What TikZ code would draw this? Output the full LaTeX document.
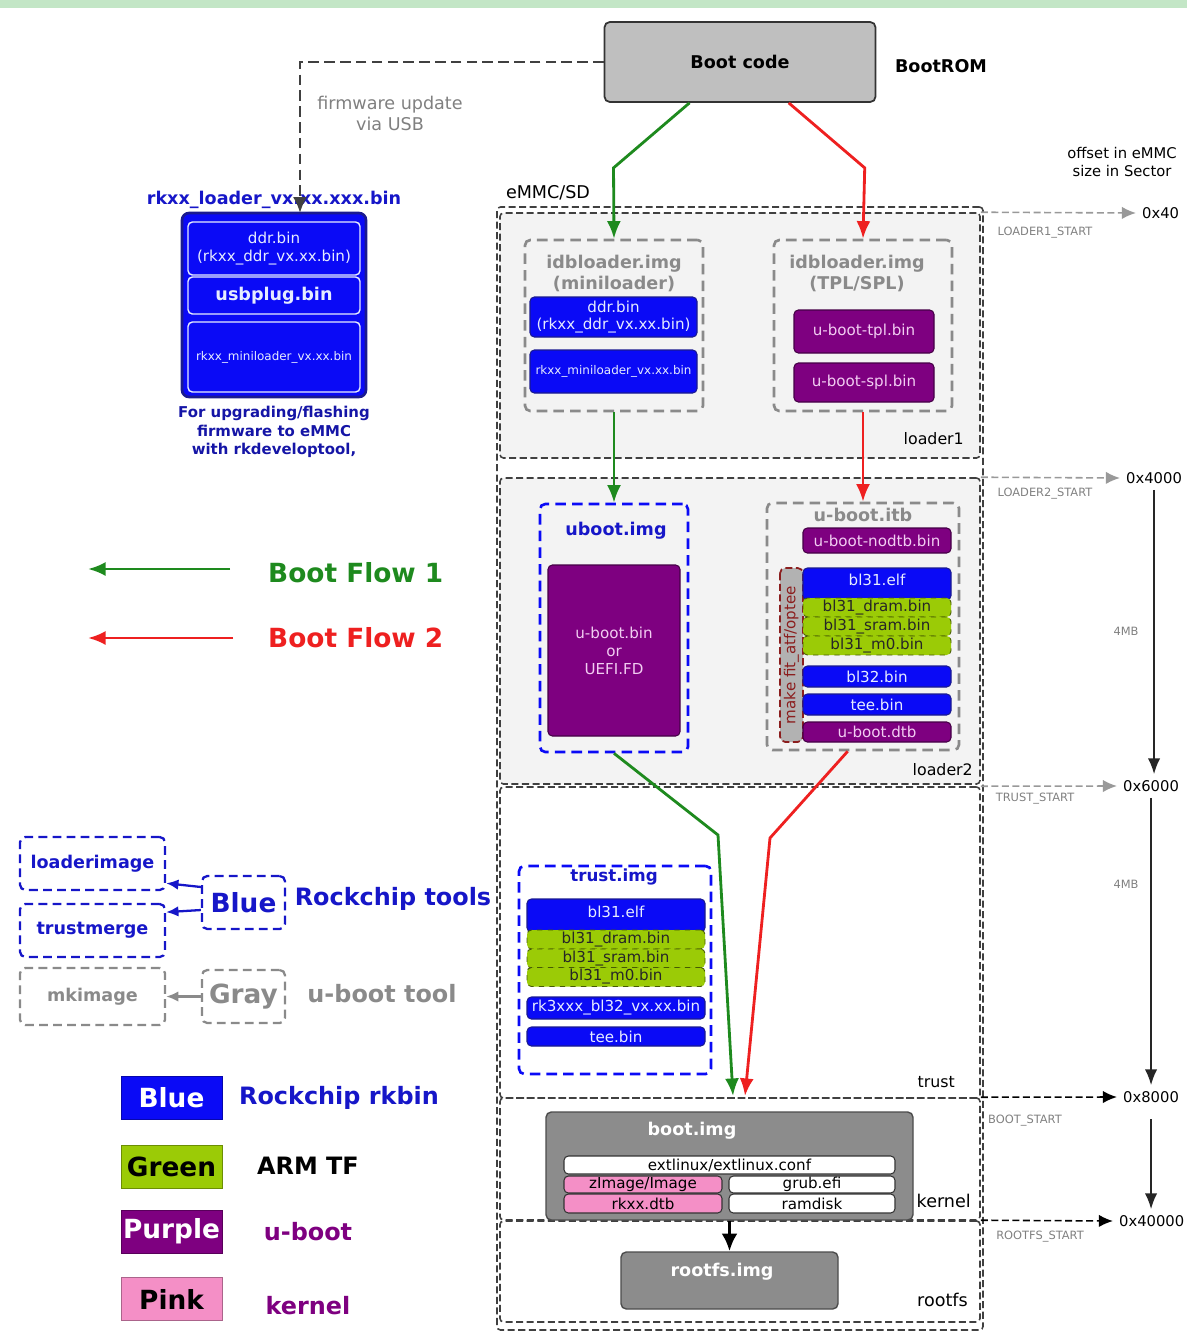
\documentclass[tikz,border=0pt]{standalone}
\usepackage{fontspec}
\setmainfont{DejaVu Sans}
\usetikzlibrary{arrows.meta,calc}
\definecolor{bandgreen}{HTML}{C3E6C6}
\definecolor{rbblue}{HTML}{0A0AF6}
\definecolor{rbtext}{HTML}{E6ECFF}
\definecolor{rbdark}{HTML}{1A1A90}
\definecolor{noteblue}{HTML}{1616C8}
\definecolor{ubpurple}{HTML}{7E0080}
\definecolor{ubtext}{HTML}{F2CDF2}
\definecolor{atfgreen}{HTML}{9BCB06}
\definecolor{knpink}{HTML}{F48FC6}
\definecolor{flowgreen}{HTML}{1E8A1E}
\definecolor{flowred}{HTML}{EE2020}
\definecolor{toolgray}{HTML}{8A8A8A}
\definecolor{secfill}{HTML}{F3F3F3}
\definecolor{fitred}{HTML}{8B1E1E}
\newcommand\tinyfs{\fontsize{6.8}{8}\selectfont}
\newcommand\binfs{\fontsize{8.6}{10.2}\selectfont}
\newcommand\titlefs{\fontsize{10}{12}\selectfont}
\newcommand\bigfs{\fontsize{15}{18}\selectfont}
\newcommand\midfs{\fontsize{13.6}{16}\selectfont}
\newcommand\offfs{\fontsize{8.4}{10}\selectfont}
\newcommand\tagfs{\fontsize{6.5}{8}\selectfont}
\tikzset{
 sz/.style 2 args={minimum width=#1*0.02cm,minimum height=#2*0.02cm,inner sep=0pt},
 rkbin/.style={rounded corners=2.5pt,fill=rbblue,draw=rbdark,line width=.6pt,text=rbtext,font=\binfs},
 ubbox/.style={rounded corners=2.5pt,fill=ubpurple,draw=ubpurple!55!black,line width=.6pt,text=ubtext,font=\binfs},
 atfbox/.style={rounded corners=2.5pt,fill=atfgreen,draw=atfgreen!45!black,dashed,line width=.5pt,text=black!85,font=\binfs},
 kfile/.style={rounded corners=2.5pt,draw=black!80,line width=.6pt,font=\binfs},
 imgbox/.style={rounded corners=3pt,draw=#1,dash pattern=on 6pt off 3.5pt,line width=1.5pt},
 imgfill/.style={rounded corners=3pt,fill=black!45,draw=black!70,line width=.8pt},
 secline/.style={draw=black!75,dash pattern=on 4pt off 2pt,line width=.9pt,rounded corners=2pt},
 tool/.style={draw=#1,text=#1,dash pattern=on 5pt off 3pt,line width=1.3pt,rounded corners=3pt,font=\titlefs\bfseries,sz={145}{53}},
 toolarr/.style={draw=#1,line width=1.3pt,-{Latex[length=7pt,width=6pt]}},
 flowline/.style={draw=#1,line width=1.6pt,-{Latex[length=10pt,width=8pt]}},
 offarr/.style={draw=#1,dash pattern=on 4pt off 2pt,line width=.9pt,-{Latex[length=8pt,width=7pt]}},
 sizearr/.style={draw=black!85,line width=1pt,-{Latex[length=9pt,width=7pt]}}
}

\begin{document}
\begin{tikzpicture}[x=0.02cm,y=-0.02cm,>=Latex]
\useasboundingbox (0,0) rectangle (1187,1336);
\fill[bandgreen] (0,0) rectangle (1187,8);

% boot ROM and the USB update path
\node[draw=black!80,fill=black!25,line width=1pt,rounded corners=3pt,sz={271}{80},font=\titlefs\bfseries] (bootcode) at (740,62) {Boot code};
\node[font=\titlefs\bfseries] (bootrom) at (941,66) {BootROM};
\node[font=\titlefs,text=black!50,align=center] (fwnote) at (390,113) {firmware update\\via USB};
\node[font=\titlefs\bfseries,text=noteblue] (ldrtitle) at (274,200) {rkxx\_loader\_vx.xx.xxx.bin};
\node[fill=rbblue,draw=rbdark,line width=1.5pt,rounded corners=4pt,sz={184}{184}] (ldrbox) at (274,305) {};
\node[rkbin,draw=rbtext,line width=.8pt,sz={172}{53},align=center] (ldrddr) at (274,248.5) {ddr.bin\\(rkxx\_ddr\_vx.xx.bin)};
\node[rkbin,draw=rbtext,line width=.8pt,sz={172}{37},font=\titlefs\bfseries] (ldrusb) at (274,295.5) {usbplug.bin};
\node[rkbin,draw=rbtext,line width=.8pt,sz={172}{70},font=\tinyfs] (ldrmini) at (274,357) {rkxx\_miniloader\_vx.xx.bin};
\node[font=\fontsize{8.5}{10.5}\selectfont\bfseries,text=rbdark!80!blue,align=center] (flashnote) at (274,432) {For upgrading/flashing\\firmware to eMMC\\with rkdeveloptool,};
\coordinate (usbin) at (300,213);
\draw[draw=black!75,line width=1.6pt,dash pattern=on 6pt off 3pt,-{Latex[length=9pt,width=8pt]}] (bootcode.west) -| (usbin);

% boot flow keys
\node[font=\bigfs\bfseries,text=flowgreen,anchor=west] (flow1) at (262,573) {Boot Flow 1};
\node[font=\bigfs\bfseries,text=flowred,anchor=west] (flow2) at (262,638) {Boot Flow 2};
\coordinate (f1tail) at (230,569); \coordinate (f1head) at (88,569);
\coordinate (f2tail) at (233,638); \coordinate (f2head) at (88,638);
\draw[flowline=flowgreen] (f1tail) -- (f1head);
\draw[flowline=flowred] (f2tail) -- (f2head);

% tool keys
\node[tool=noteblue] (loaderimg) at (92.5,863.5) {loaderimage};
\node[tool=noteblue] (trustmrg) at (92.5,930.5) {trustmerge};
\node[tool=noteblue,sz={83}{53},font=\bigfs\bfseries] (bluetool) at (243.5,902.5) {Blue};
\node[font=\midfs\bfseries,text=noteblue] (rktools) at (393,899) {Rockchip tools};
\node[tool=toolgray,sz={145}{57}] (mkimg) at (92.5,996.5) {mkimage};
\node[tool=toolgray,sz={83}{53},font=\bigfs\bfseries] (graytool) at (243.5,996.5) {Gray};
\node[font=\midfs\bfseries,text=toolgray] (ubtool) at (382,994) {u-boot tool};
\draw[toolarr=noteblue] (bluetool.160) -- (loaderimg.-15);
\draw[toolarr=noteblue] (bluetool.190) -- (trustmrg.14);
\draw[toolarr=toolgray] (graytool.west) -- (mkimg.east);

% colour keys
\foreach \nm/\y/\fc/\tc/\lab/\lc/\lx/\ly in {Blue/1097.5/rbblue/white/Rockchip rkbin/noteblue/339/1098,
 Green/1166.5/atfgreen/black/ARM TF/black/308/1166,
 Purple/1231.5/ubpurple/white/u-boot/ubpurple/308/1232,
 Pink/1299/knpink/black/kernel/ubpurple/308/1306}{
 \node[fill=\fc,draw=\fc!70!black,line width=.4pt,sz={101}{43},text=\tc,font=\bigfs\bfseries] (key\nm) at (171.5,\y) {\nm};
 \node[text=\lc,font=\midfs\bfseries] (lab\nm) at (\lx,\ly) {\lab};
}

% eMMC layout
\node[font=\titlefs] (emmclabel) at (548,193) {eMMC/SD};
\node[secline,sz={486}{1123}] (emmc) at (740,768.5) {};
\node[secline,fill=secfill,sz={480}{245}] (secl1) at (740,335.5) {};
\node[secline,fill=secfill,sz={480}{306}] (secl2) at (740,631) {};
\node[secline,sz={480}{311}] (sect) at (740,942.5) {};
\node[secline,sz={480}{122}] (seck) at (740,1159) {};
\node[secline,sz={480}{101}] (secr) at (740,1271.5) {};
\node[font=\fontsize{9}{11}\selectfont,anchor=base east] (l1lab) at (970,444) {loader1};
\node[font=\fontsize{9}{11}\selectfont,anchor=base east] (l2lab) at (979,775) {loader2};
\node[font=\fontsize{9}{11}\selectfont,anchor=base east] (trlab) at (961,1087) {trust};
\node[font=\titlefs,anchor=base east] (knlab) at (977,1207) {kernel};
\node[font=\titlefs,anchor=base east] (rflab) at (974,1306) {rootfs};

% offsets on the right
\node[font=\offfs,align=center] (offnote) at (1122,162) {offset in eMMC\\size in Sector};
\foreach \sec/\nm/\val/\y/\vx/\tag/\tx/\ty/\col in {
 secl1/o40/0x40/213/1136/LOADER1\_START/1045/233/black!40,
 secl2/o4000/0x4000/478/1120/LOADER2\_START/1045/494/black!40,
 sect/o6000/0x6000/786/1117/TRUST\_START/1035/799/black!40,
 seck/o8000/0x8000/1097/1117/BOOT\_START/1025/1121/black,
 secr/o40000/0x40000/1221/1113/ROOTFS\_START/1040/1237/black}{
 \node[font=\offfs,anchor=west] (\nm) at (\vx,\y) {\val};
 \node[font=\tagfs,text=black!50] (\nm tag) at (\tx,\ty) {\tag};
 \draw[offarr=\col] (\sec.north east) -- (\nm.west);
}
\draw[sizearr] (o4000.south) -- (o4000.south |- o6000.north);
\draw[sizearr] (o6000.south) -- (o6000.south |- o8000.north);
\draw[sizearr] ([yshift=-6pt]o8000.south) -- (o8000.south |- o40000.north);
\node[font=\tagfs,text=black!50] (size1) at (1126,631) {4MB};
\node[font=\tagfs,text=black!50] (size2) at (1126,884) {4MB};

% loader1: the two idbloader variants
\node[imgbox=toolgray,sz={178}{171}] (idbA) at (614,325.5) {};
\node[font=\titlefs\bfseries,text=toolgray,align=center] (idbAtitle) at (614,273.5) {idbloader.img\\(miniloader)};
\node[rkbin,sz={167}{40},align=center] (idbAddr) at (613.5,317) {ddr.bin\\(rkxx\_ddr\_vx.xx.bin)};
\node[rkbin,sz={167}{43},font=\tinyfs] (idbAmini) at (613.5,371.5) {rkxx\_miniloader\_vx.xx.bin};
\node[imgbox=toolgray,sz={178}{171}] (idbB) at (863,325.5) {};
\node[font=\titlefs\bfseries,text=toolgray,align=center] (idbBtitle) at (857,273.5) {idbloader.img\\(TPL/SPL)};
\node[ubbox,sz={140}{43}] (tpl) at (864,331.5) {u-boot-tpl.bin};
\node[ubbox,sz={140}{39}] (spl) at (864,382.5) {u-boot-spl.bin};

% loader2: uboot.img and u-boot.itb
\node[imgbox=rbblue,sz={148}{248}] (ubimg) at (614,628) {};
\node[font=\titlefs\bfseries,text=noteblue] (ubimgtitle) at (616,531) {uboot.img};
\node[ubbox,sz={132}{171},align=center] (ubbin) at (614,650.5) {u-boot.bin\\or\\UEFI.FD};
\node[imgbox=toolgray,sz={192}{247}] (itb) at (863,626.5) {};
\node[font=\titlefs\bfseries,text=toolgray] (itbtitle) at (863,515) {u-boot.itb};
\node[ubbox,sz={148}{25}] (nodtb) at (877,540.5) {u-boot-nodtb.bin};
\node[fill=black!30,draw=fitred,dash pattern=on 4pt off 2pt,line width=1pt,rounded corners=3pt,rotate=90,sz={174}{23},font=\binfs,text=fitred] (mkfit) at (791.5,655) {make fit\_atf/optee};
\node[rkbin,sz={148}{32}] (ibl31) at (877,584) {};
\node[text=rbtext,font=\binfs] (ibl31txt) at (877,580) {bl31.elf};
\foreach \nm/\y/\txt in {idram/607.5/bl31\_dram.bin,isram/626.5/bl31\_sram.bin,im0/645.5/bl31\_m0.bin}
 \node[atfbox,sz={148}{19}] (\nm) at (877,\y) {\txt};
\node[rkbin,sz={148}{21}] (ibl32) at (877,676.5) {bl32.bin};
\node[rkbin,sz={148}{21}] (itee) at (877,704.5) {tee.bin};
\node[ubbox,sz={148}{20}] (idtb) at (877,732) {u-boot.dtb};

% trust
\node[imgbox=rbblue,sz={192}{208}] (trustimg) at (615,970) {};
\node[font=\fontsize{9.5}{11}\selectfont\bfseries,text=noteblue] (trusttitle) at (614,877) {trust.img};
\node[rkbin,sz={178}{33}] (tbl31) at (616,915.5) {};
\node[text=rbtext,font=\binfs] (tbl31txt) at (616,912) {bl31.elf};
\foreach \nm/\y/\txt in {tdram/939.5/bl31\_dram.bin,tsram/958.5/bl31\_sram.bin,tm0/977/bl31\_m0.bin}
 \node[atfbox,sz={178}{19}] (\nm) at (616,\y) {\txt};
\node[rkbin,sz={178}{22}] (tbl32) at (616,1008) {rk3xxx\_bl32\_vx.xx.bin};
\node[rkbin,sz={178}{19}] (ttee) at (616,1036.5) {tee.bin};

% kernel and rootfs
\node[imgfill,sz={367}{108}] (bootimg) at (729.5,1166) {};
\node[font=\titlefs\bfseries,text=white] (boottitle) at (692,1131) {boot.img};
\node[kfile,fill=white,sz={331}{18}] (extl) at (729.5,1165) {extlinux/extlinux.conf};
\node[kfile,fill=knpink,sz={158}{17}] (zimg) at (643,1184.5) {zImage/Image};
\node[kfile,fill=knpink,sz={158}{19}] (kdtb) at (643,1203.5) {rkxx.dtb};
\node[kfile,fill=white,sz={166}{17}] (grub) at (812,1184.5) {grub.efi};
\node[kfile,fill=white,sz={166}{19}] (rdisk) at (812,1203.5) {ramdisk};
\node[imgfill,sz={217}{57}] (rootfs) at (729.5,1280.5) {};
\node[font=\titlefs\bfseries,text=white] (rootfstitle) at (722,1272) {rootfs.img};
\draw[draw=black,line width=2pt,-{Latex[length=10pt,width=9pt]}] (bootimg.south) -- (rootfs.north);

% boot flows
\coordinate (gtip) at (733,1096);
\coordinate (rtip) at (745,1096);
\draw[flowline=flowgreen] (bootcode.219) -- ++(-76,65) -- (idbA.north);
\draw[flowline=flowred] (bootcode.-40) -- ++(76,65) -- (idbB.north);
\draw[flowline=flowgreen] (idbA.south) -- (ubimg.north);
\draw[flowline=flowred] (idbB.south) -- (itb.north);
\draw[flowline=flowgreen] (ubimg.south) -- (718,835) -- (gtip);
\draw[flowline=flowred] (itb.263) -- (770,838) -- (rtip);
\end{tikzpicture}
\end{document}
